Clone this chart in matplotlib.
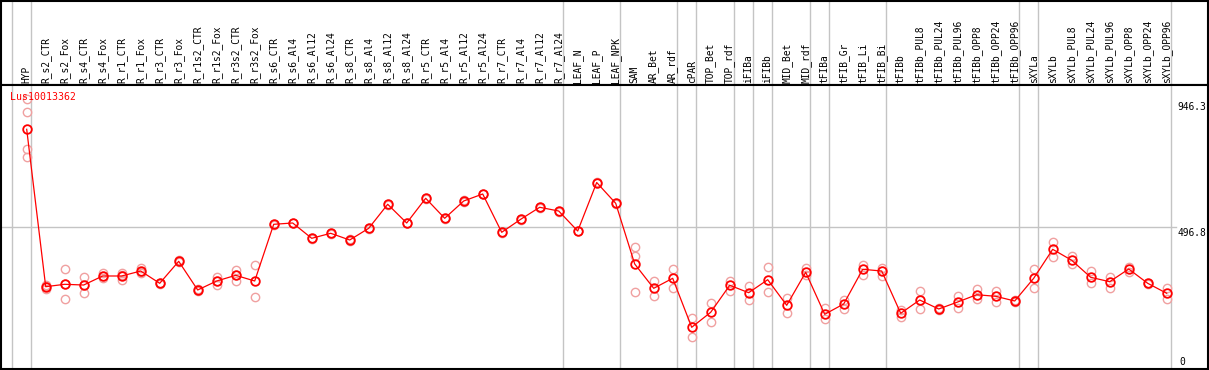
import matplotlib
matplotlib.use("Agg")
import matplotlib.pyplot as plt

# ---------------- data ----------------
title = "Lus10013362"
categories = [
    "HYP", "R_s2_CTR", "R_s2_Fox", "R_s4_CTR", "R_s4_Fox", "R_r1_CTR", "R_r1_Fox",
    "R_r3_CTR", "R_r3_Fox", "R_r1s2_CTR", "R_r1s2_Fox", "R_r3s2_CTR", "R_r3s2_Fox",
    "R_s6_CTR", "R_s6_Al4", "R_s6_Al12", "R_s6_Al24", "R_s8_CTR", "R_s8_Al4",
    "R_s8_Al12", "R_s8_Al24", "R_r5_CTR", "R_r5_Al4", "R_r5_Al12", "R_r5_Al24",
    "R_r7_CTR", "R_r7_Al4", "R_r7_Al12", "R_r7_Al24", "LEAF_N", "LEAF_P", "LEAF_NPK",
    "SAM", "AR_Bet", "AR_rdf", "cPAR", "TOP_Bet", "TOP_rdf", "iFIBa", "iFIBb",
    "MID_Bet", "MID_rdf", "tFIBa", "tFIB_Gr", "tFIB_Li", "tFIB_Bi", "tFIBb",
    "tFIBb_PUL8", "tFIBb_PUL24", "tFIBb_PUL96", "tFIBb_OPP8", "tFIBb_OPP24",
    "tFIBb_OPP96", "sXYLa", "sXYLb", "sXYLb_PUL8", "sXYLb_PUL24", "sXYLb_PUL96",
    "sXYLb_OPP8", "sXYLb_OPP24", "sXYLb_OPP96",
]
means = [
    839.0, 285.8, 294.2, 291.7, 323.4, 323.4, 340.9, 297.7, 375.0, 274.2, 305.8,
    325.8, 305.8, 505.1, 509.7, 455.9, 473.5, 449.9, 491.0, 575.4, 509.7, 596.5,
    526.2, 587.0, 611.6, 477.0, 522.7, 564.9, 551.8, 481.5, 652.0, 578.9, 365.6,
    280.1, 315.3, 143.1, 195.8, 290.7, 264.7, 310.4, 220.4, 336.4, 188.8, 225.0,
    346.9, 340.9, 192.3, 239.0, 207.4, 232.0, 257.6, 252.0, 235.5, 315.3, 417.2,
    378.6, 318.8, 303.3, 348.0, 297.7, 262.6,
]
replicates = [
    [946.3, 898.8, 769.8, 742.7], [291.7, 276.6, 289.0], [346.9, 241.5, 294.2],
    [318.8, 262.6, 291.7], [332.9, 315.3, 322.0], [335.0, 309.3, 326.0],
    [350.4, 338.5, 334.0], [300.0, 295.0, 298.0], [372.0, 378.0], [270.0, 278.0],
    [318.8, 291.7, 306.0], [343.4, 306.9, 327.0], [361.0, 248.5],
    [503.0, 507.0], [508.0, 511.0], [454.0, 458.0], [472.0, 475.0], [448.0, 452.0],
    [489.0, 493.0], [573.0, 577.0], [508.0, 511.0], [594.0, 598.0], [524.0, 528.0],
    [585.0, 589.0], [610.0, 613.0], [475.0, 479.0], [521.0, 524.0], [563.0, 567.0],
    [550.0, 553.0], [480.0, 483.0], [650.0, 654.0], [577.0, 581.0],
    [424.3, 393.7, 266.1], [305.8, 254.1], [346.9, 282.2], [176.8, 107.9],
    [228.5, 160.6], [305.8, 271.7], [288.2, 239.0], [355.0, 266.1], [247.1, 194.4],
    [352.5, 326.9], [209.5, 171.2], [239.0, 206.3], [362.0, 326.9], [352.5, 323.4],
    [203.9, 178.2], [270.7, 207.4], [205.0, 210.0], [253.1, 209.8], [276.6, 242.5],
    [271.7, 232.0], [239.0, 232.0], [346.9, 282.2], [442.9, 391.2], [393.7, 364.5],
    [342.0, 298.8], [318.8, 280.1], [353.9, 338.5], [295.0, 300.0], [281.2, 241.5],
]
group_ends = [-1, 0, 28, 31, 34, 35, 37, 38, 39, 41, 42, 45, 52, 53, 60]
y_max_label = "946.3"
y_mid_label = "496.8"
y_mid = 496.8
y_min_label = "0"

# ---------------- layout (pixels) ----------------
W, H = 1209, 370
DPI = 100
fig = plt.figure(figsize=(W / DPI, H / DPI), dpi=DPI)
fig.patch.set_facecolor("white")

def fx(px):
    return px / W

def fy(py):
    return 1 - py / H

x0_px, dx_px = 26.7, 19.0
left_px, right_px = 1.0, 1208.0
hdr_px, bot_px = 85.0, 369.0
zero_px, scale = 368.0, 0.2845  # px per unit

xlim = ((left_px - x0_px) / dx_px, (right_px - x0_px) / dx_px)
ylim = ((zero_px - bot_px) / scale, (zero_px - hdr_px) / scale)

mono = "DejaVu Sans Mono"
fs = 6.9

# header axes
hax = fig.add_axes([fx(left_px), fy(hdr_px), fx(right_px - left_px), fy(0.5) - fy(hdr_px)])
hax.set_xlim(*xlim)
hax.set_ylim(0, 1)
hax.set_xticks([])
hax.set_yticks([])
for s in hax.spines.values():
    s.set_color("black")
    s.set_linewidth(1.5)

# main axes
ax = fig.add_axes([fx(left_px), fy(bot_px), fx(right_px - left_px), fy(hdr_px) - fy(bot_px)])
ax.set_xlim(*xlim)
ax.set_ylim(*ylim)
ax.set_xticks([])
ax.set_yticks([])
for s in ax.spines.values():
    s.set_color("black")
    s.set_linewidth(1.5)

grey = "#c4c4c4"
for g in group_ends:
    xb = g + 4.0 / dx_px
    ax.axvline(xb, color=grey, lw=1.0, zorder=1)
    hax.axvline(xb, color=grey, lw=1.0, zorder=1)

last_x = len(categories) - 1 + 4.0 / dx_px
ax.plot([xlim[0], last_x + 0.3], [y_mid, y_mid], color=grey, lw=1.0, zorder=1)

# header labels
for i, c in enumerate(categories):
    hax.text(i, (hdr_px - 83.0) / hdr_px, c, rotation=90, ha="center", va="bottom",
             fontsize=fs, family=mono, color="black",
             transform=hax.transData if False else
             matplotlib.transforms.blended_transform_factory(hax.transData, hax.transAxes))

# replicates
for i, reps in enumerate(replicates):
    ax.plot([i] * len(reps), reps, linestyle="none", marker="o", markersize=6.0,
            markerfacecolor="none", markeredgecolor="#f0a0a0", markeredgewidth=1.0,
            zorder=2)

# mean line
xs = list(range(len(means)))
ax.plot(xs, means, color="red", lw=0.9, zorder=3)
ax.plot(xs, means, linestyle="none", marker="o", markersize=6.2,
        markerfacecolor="none", markeredgecolor="red", markeredgewidth=1.3, zorder=4)

# title
fig.text(fx(10), fy(96.7), title, color="red", family=mono, fontsize=7.1,
         ha="left", va="center", zorder=5)

# y labels
fig.text(fx(1177), fy(106.7), y_max_label, family=mono, fontsize=fs, ha="left", va="center")
fig.text(fx(1177), fy(232.7), y_mid_label, family=mono, fontsize=fs, ha="left", va="center")
fig.text(fx(1179), fy(362), y_min_label, family=mono, fontsize=fs, ha="left", va="center")

fig.savefig("out.png", dpi=DPI, facecolor="white")
